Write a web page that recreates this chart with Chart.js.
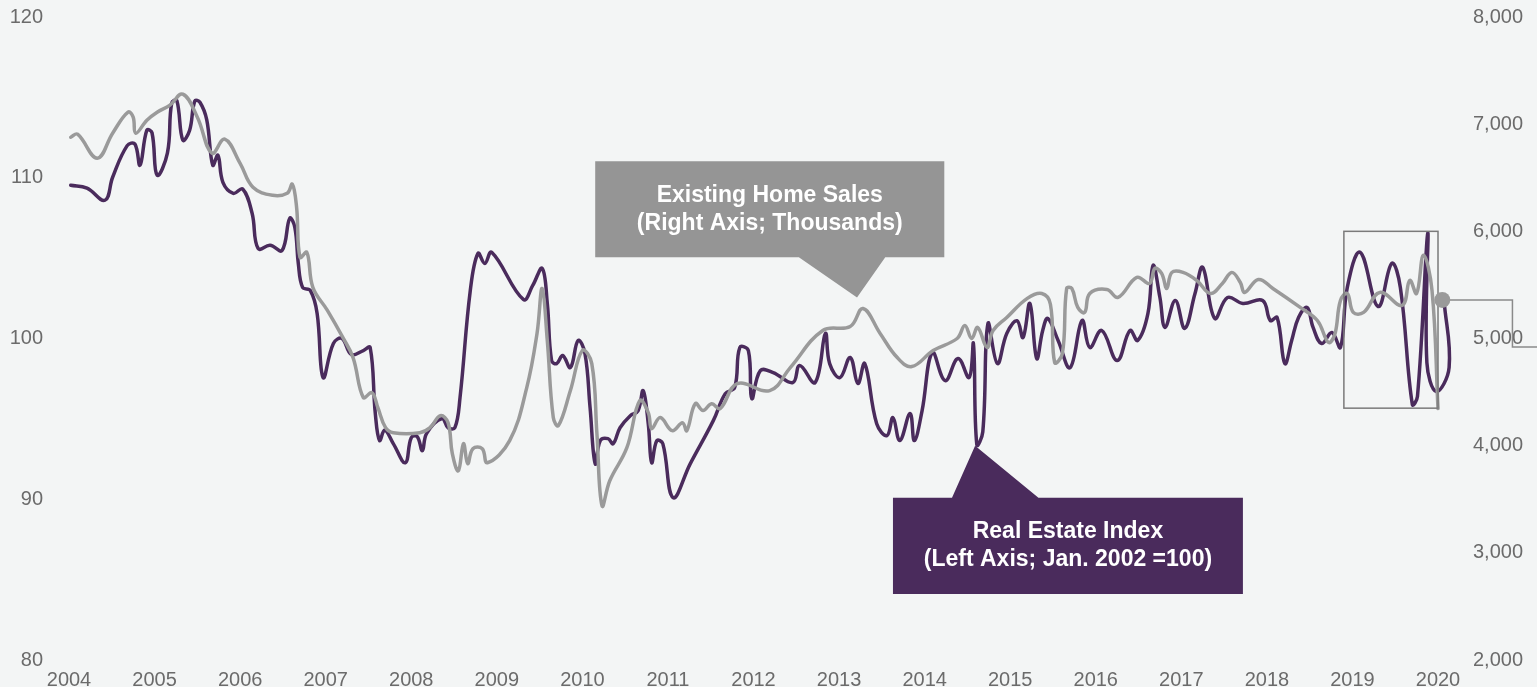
<!DOCTYPE html>
<html>
<head>
<meta charset="utf-8">
<script src="https://cdn.jsdelivr.net/npm/chart.js@4/dist/chart.umd.min.js"></script>
<style>
html,body{margin:0;padding:0;background:#f3f5f5;}
#wrap{width:1537px;height:687px;position:relative;}
</style>
</head>
<body>
<div id="wrap"><canvas id="c"></canvas></div>
<script>
// Existing Home Sales (right axis, thousands)
const salesYears = [2004.02,2004.10,2004.33,2004.51,2004.69,2004.75,2004.78,2004.91,2005.03,2005.18,2005.33,2005.50,2005.67,2005.82,2006.00,2006.15,2006.38,2006.55,2006.61,2006.66,2006.70,2006.78,2006.85,2007.02,2007.20,2007.32,2007.44,2007.54,2007.61,2007.70,2007.79,2008.10,2008.22,2008.34,2008.43,2008.48,2008.55,2008.61,2008.66,2008.72,2008.83,2008.89,2009.15,2009.35,2009.47,2009.53,2009.59,2009.66,2009.72,2009.86,2010.00,2010.11,2010.17,2010.23,2010.32,2010.52,2010.67,2010.77,2010.81,2010.91,2011.05,2011.17,2011.22,2011.32,2011.41,2011.51,2011.61,2011.81,2012.19,2012.43,2012.81,2013.13,2013.28,2013.48,2013.68,2013.85,2014.10,2014.38,2014.47,2014.55,2014.62,2014.73,2014.80,2014.96,2015.20,2015.37,2015.47,2015.52,2015.61,2015.66,2015.72,2015.79,2015.87,2015.93,2016.13,2016.26,2016.48,2016.63,2016.69,2016.77,2016.83,2016.89,2017.02,2017.18,2017.34,2017.48,2017.59,2017.69,2017.74,2017.90,2018.07,2018.39,2018.59,2018.70,2018.74,2018.80,2018.86,2018.94,2019.01,2019.13,2019.32,2019.58,2019.67,2019.75,2019.83,2019.93,2020.00];
const salesValues = [6878,6906,6682,6916,7112,7065,6916,7037,7112,7178,7280,7065,6729,6860,6635,6411,6336,6355,6440,6224,5757,5804,5477,5262,5010,4822,4449,4495,4355,4168,4121,4121,4168,4280,4215,3925,3766,4019,3832,3972,3972,3841,4047,4542,5047,5467,4981,4262,4187,4514,4888,4766,4112,3439,3673,3981,4420,4308,4159,4262,4140,4215,4140,4392,4327,4392,4346,4579,4514,4729,5075,5112,5280,5047,4822,4738,4888,5000,5122,5000,5103,4916,5075,5196,5374,5420,5320,4776,4860,5467,5467,5290,5243,5420,5458,5383,5570,5514,5654,5607,5467,5617,5617,5542,5420,5514,5617,5523,5430,5551,5467,5290,5168,4981,4963,5056,5355,5420,5243,5243,5430,5308,5542,5420,5776,5449,4346];

// Real Estate Index (left axis, Jan. 2002 = 100)
const indexYears = [2004.02,2004.21,2004.42,2004.51,2004.68,2004.77,2004.83,2004.91,2004.97,2005.03,2005.15,2005.20,2005.26,2005.33,2005.41,2005.47,2005.53,2005.61,2005.68,2005.74,2005.80,2005.92,2006.03,2006.14,2006.21,2006.35,2006.49,2006.58,2006.64,2006.68,2006.73,2006.82,2006.90,2006.97,2007.09,2007.19,2007.30,2007.44,2007.52,2007.58,2007.63,2007.69,2007.79,2007.93,2008.00,2008.07,2008.13,2008.18,2008.36,2008.43,2008.51,2008.57,2008.69,2008.78,2008.86,2008.94,2009.31,2009.42,2009.53,2009.59,2009.64,2009.70,2009.77,2009.86,2009.95,2010.03,2010.09,2010.15,2010.21,2010.30,2010.36,2010.44,2010.56,2010.65,2010.71,2010.77,2010.81,2010.87,2010.94,2011.06,2011.26,2011.53,2011.67,2011.78,2011.84,2011.94,2011.98,2012.08,2012.23,2012.46,2012.54,2012.72,2012.84,2012.89,2013.01,2013.13,2013.22,2013.30,2013.44,2013.56,2013.63,2013.71,2013.83,2013.88,2013.97,2014.09,2014.24,2014.39,2014.52,2014.57,2014.61,2014.68,2014.74,2014.85,2014.96,2015.08,2015.15,2015.23,2015.31,2015.38,2015.44,2015.56,2015.70,2015.84,2015.93,2016.07,2016.25,2016.40,2016.49,2016.61,2016.67,2016.75,2016.81,2016.93,2017.04,2017.16,2017.25,2017.39,2017.54,2017.72,2017.95,2018.04,2018.12,2018.21,2018.29,2018.37,2018.47,2018.54,2018.64,2018.76,2018.86,2018.94,2019.09,2019.30,2019.46,2019.56,2019.70,2019.76,2019.88,2019.87,2019.98,2020.13,2020.07];
const indexValues = [109.53,109.35,108.60,110.03,112.00,112.10,110.78,112.96,112.80,110.16,111.53,114.64,114.80,112.34,112.96,114.77,114.70,113.60,110.78,111.40,109.70,109.03,109.30,107.79,105.60,105.80,105.48,107.48,106.90,104.67,103.18,102.99,101.56,97.57,99.69,100.00,99.00,99.25,99.44,95.33,93.65,94.30,93.46,92.27,93.83,93.90,93.02,94.10,95.02,94.45,94.45,96.32,102.99,105.30,104.67,105.36,102.43,103.30,104.36,102.18,98.63,98.44,98.94,98.19,99.88,99.07,95.70,92.21,93.65,93.77,93.46,94.45,95.20,95.50,96.76,94.70,92.27,93.64,93.46,90.10,92.20,94.89,96.57,96.95,99.44,99.25,96.26,98.00,97.88,97.26,98.32,97.26,100.31,98.44,97.57,98.82,97.20,98.44,94.70,93.96,95.08,93.65,95.33,93.65,95.50,99.13,97.38,98.75,97.57,99.69,93.40,94.20,100.93,98.44,100.31,101.10,100.06,102.18,98.75,100.50,101.25,99.88,98.19,101.12,99.44,100.50,98.63,100.50,99.88,101.56,104.55,102.55,100.69,102.37,100.63,102.80,104.42,101.25,102.55,102.18,102.37,101.12,101.31,98.44,99.88,101.31,101.93,100.69,99.69,100.37,99.44,103.18,105.36,101.99,104.67,103.18,95.90,96.40,106.54,98.50,96.70,98.20,102.40];

const yearTicks = [2004,2005,2006,2007,2008,2009,2010,2011,2012,2013,2014,2015,2016,2017,2018,2019,2020];
const leftTicks = [80,90,100,110,120];
const rightTicks = [2000,3000,4000,5000,6000,7000,8000];
const salesLabel = ['Existing Home Sales','(Right Axis; Thousands)'];
const indexLabel = ['Real Estate Index','(Left Axis; Jan. 2002 =100)'];

const FONT = "'Liberation Sans', Arial, Helvetica, sans-serif";
const TICK_COLOR = '#6b6b6b';
const BG = '#f3f5f5';
const PURPLE = '#4a2b5c';
const GREY_LINE = '#9a9a9a';
const GREY_BOX = '#959595';

// annotation placement (in data units)
const annotations = {
  rect: {x0: 2018.9, x1: 2020.0, y0: 6000, y1: 4350},
  dot: {x: 2020.05, y: 5360},
  elbow: {x: 2020.87, y: 4920},
  salesCallout: {x0: 2010.15, x1: 2014.23, yTop: 6654, yBot: 5757, b0: 2012.53, b1: 2013.54, tx: 2013.21, ty: 5383},
  indexCallout: {x0: 2013.63, x1: 2017.72, yTop: 90.09, yBot: 84.11, b0: 2014.32, b1: 2015.33, tx: 2014.59, ty: 93.33}
};

const annotPlugin = {
  id: 'annot',
  beforeDraw(chart) {
    const {ctx, width, height} = chart;
    ctx.save();
    ctx.fillStyle = BG;
    ctx.fillRect(0, 0, width, height);
    ctx.restore();
  },
  afterDatasetsDraw(chart) {
    const {ctx} = chart;
    const x = chart.scales.x, yl = chart.scales.yL, yr = chart.scales.yR;
    const a = annotations;
    ctx.save();
    ctx.strokeStyle = '#7a7a7a';
    ctx.lineWidth = 1.5;
    const rx0 = x.getPixelForValue(a.rect.x0), rx1 = x.getPixelForValue(a.rect.x1);
    const ry0 = yr.getPixelForValue(a.rect.y0), ry1 = yr.getPixelForValue(a.rect.y1);
    ctx.strokeRect(rx0, ry0, rx1 - rx0, ry1 - ry0);
    const dx = x.getPixelForValue(a.dot.x), dy = yr.getPixelForValue(a.dot.y);
    const ex = x.getPixelForValue(a.elbow.x), ey = yr.getPixelForValue(a.elbow.y);
    ctx.strokeStyle = '#8a8a8a';
    ctx.beginPath();
    ctx.moveTo(dx, dy); ctx.lineTo(ex, dy); ctx.lineTo(ex, ey); ctx.lineTo(chart.width, ey);
    ctx.stroke();
    ctx.fillStyle = GREY_LINE;
    ctx.beginPath(); ctx.arc(dx, dy, 8, 0, Math.PI * 2); ctx.fill();

    function callout(c, ys, fill, lines, pointerTop) {
      const x0 = x.getPixelForValue(c.x0), x1 = x.getPixelForValue(c.x1);
      const y0 = ys.getPixelForValue(c.yTop), y1 = ys.getPixelForValue(c.yBot);
      const b0 = x.getPixelForValue(c.b0), b1 = x.getPixelForValue(c.b1);
      const tx = x.getPixelForValue(c.tx), ty = ys.getPixelForValue(c.ty);
      ctx.fillStyle = fill;
      ctx.beginPath();
      if (pointerTop) {
        ctx.moveTo(x0, y0); ctx.lineTo(b0, y0); ctx.lineTo(tx, ty); ctx.lineTo(b1, y0);
        ctx.lineTo(x1, y0); ctx.lineTo(x1, y1); ctx.lineTo(x0, y1);
      } else {
        ctx.moveTo(x0, y0); ctx.lineTo(x1, y0); ctx.lineTo(x1, y1); ctx.lineTo(b1, y1);
        ctx.lineTo(tx, ty); ctx.lineTo(b0, y1); ctx.lineTo(x0, y1);
      }
      ctx.closePath();
      ctx.fill();
      ctx.fillStyle = '#ffffff';
      ctx.font = 'bold 23px ' + FONT;
      ctx.textAlign = 'center';
      ctx.textBaseline = 'middle';
      const cx = (x0 + x1) / 2, cy = (y0 + y1) / 2;
      const lh = 28;
      lines.forEach((t, i) => ctx.fillText(t, cx, cy + (i - (lines.length - 1) / 2) * lh));
    }
    callout(a.salesCallout, yr, GREY_BOX, salesLabel, false);
    callout(a.indexCallout, yl, PURPLE, indexLabel, true);
    ctx.restore();
  }
};

const tickFont = {family: FONT, size: 20};
function noPad(s) { s.paddingTop = 0; s.paddingBottom = 0; s.paddingLeft = 0; s.paddingRight = 0; }

new Chart(document.getElementById('c'), {
  type: 'line',
  data: {
    datasets: [
      {
        label: 'Existing Home Sales',
        data: salesYears.map((v, i) => ({x: v, y: salesValues[i]})),
        yAxisID: 'yR',
        borderColor: GREY_LINE,
        borderWidth: 3.5,
        pointRadius: 0,
        tension: 0.4,
        clip: false
      },
      {
        label: 'Real Estate Index',
        data: indexYears.map((v, i) => ({x: v, y: indexValues[i]})),
        yAxisID: 'yL',
        borderColor: PURPLE,
        borderWidth: 3.5,
        pointRadius: 0,
        tension: 0.4,
        clip: false
      }
    ]
  },
  options: {
    responsive: true,
    maintainAspectRatio: false,
    animation: false,
    devicePixelRatio: 1,
    layout: {padding: {top: 17, left: 0, right: 0, bottom: 0}},
    elements: {line: {capBezierPoints: false, borderCapStyle: 'round', borderJoinStyle: 'round'}},
    plugins: {legend: {display: false}, tooltip: {enabled: false}},
    scales: {
      x: {
        type: 'linear', min: 2004, max: 2020,
        afterFit(s) { s.height = 27; noPad(s); },
        afterBuildTicks(s) { s.ticks = yearTicks.map(v => ({value: v})); },
        grid: {display: false, drawTicks: false},
        border: {display: false},
        ticks: {padding: 8, color: TICK_COLOR, font: tickFont, maxRotation: 0, autoSkip: false, callback: v => String(v)}
      },
      yL: {
        type: 'linear', position: 'left', min: 80, max: 120,
        afterFit(s) { s.width = 69; noPad(s); },
        afterBuildTicks(s) { s.ticks = leftTicks.map(v => ({value: v})); },
        grid: {display: false, drawTicks: false},
        border: {display: false},
        ticks: {padding: 26, color: TICK_COLOR, font: tickFont, callback: v => String(v)}
      },
      yR: {
        type: 'linear', position: 'right', min: 2000, max: 8000,
        afterFit(s) { s.width = 99; noPad(s); },
        afterBuildTicks(s) { s.ticks = rightTicks.map(v => ({value: v})); },
        grid: {display: false, drawTicks: false},
        border: {display: false},
        ticks: {padding: 35, color: TICK_COLOR, font: tickFont, callback: v => v.toLocaleString('en-US')}
      }
    }
  },
  plugins: [annotPlugin]
});
</script>
</body>
</html>
